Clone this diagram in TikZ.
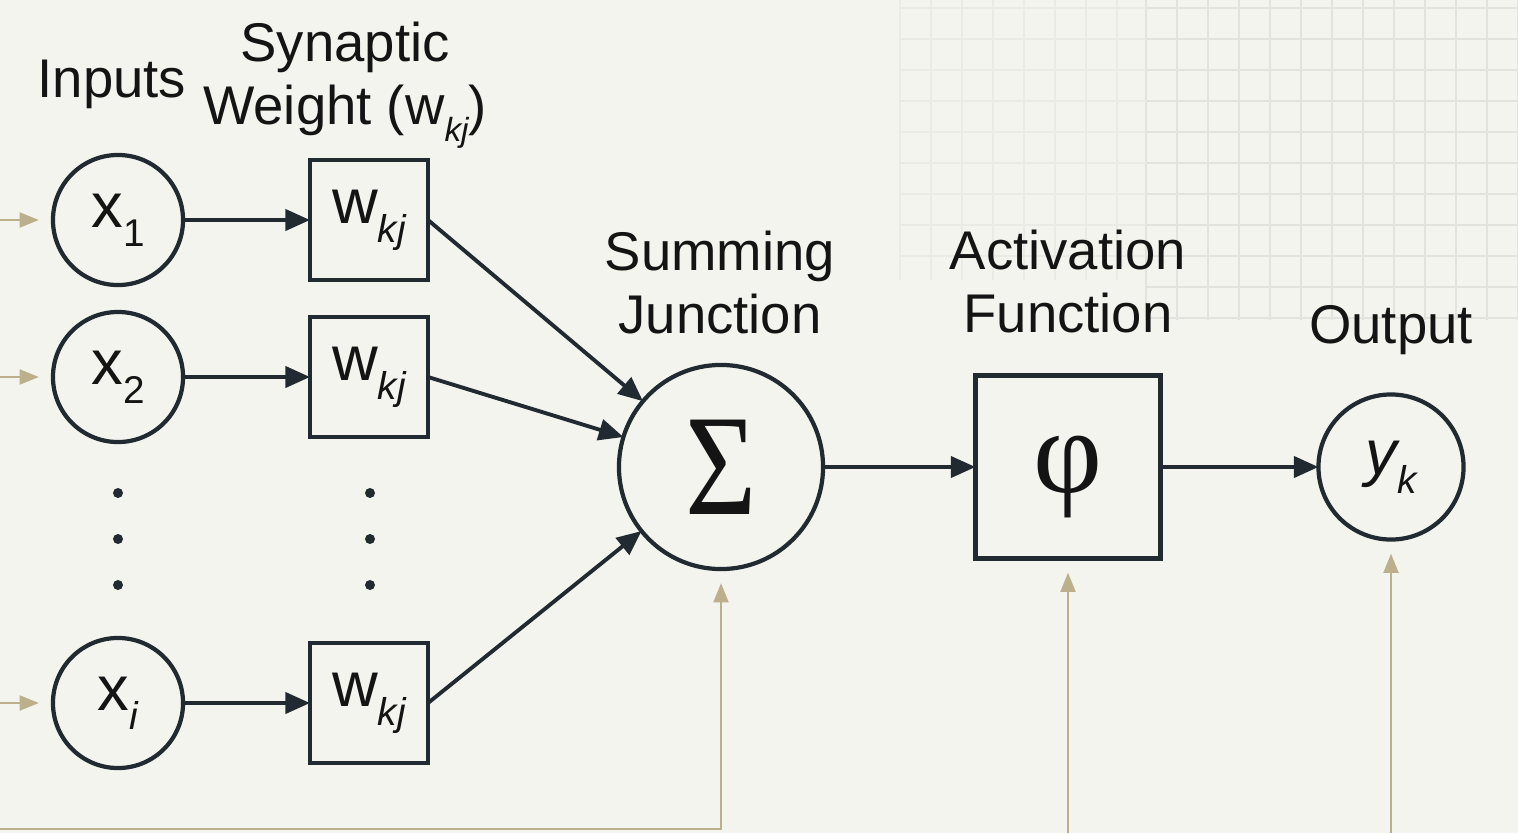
\documentclass[tikz,border=0pt]{standalone}
\usepackage{fontspec}
\setmainfont{Liberation Sans}
\newfontfamily\serifgr{Liberation Serif}
\usetikzlibrary{arrows.meta}
\definecolor{bg}{HTML}{F4F4EF}
\definecolor{ink}{HTML}{222A31}
\definecolor{tanc}{HTML}{BBAF8C}
\definecolor{gridc}{HTML}{E3E3DD}
\definecolor{gridl}{HTML}{EBEBE6}
\newcommand\sbs[1]{\raisebox{-0.3em}{\fontsize{11}{11}\selectfont #1}}
\newcommand\sbsl[1]{\raisebox{-0.3em}{\fontsize{9.5}{9.5}\selectfont #1}}
\begin{document}
\begin{tikzpicture}[x=0.01cm,y=-0.01cm,
  every node/.style={inner sep=0pt, outer sep=0pt, text=black!92},
  neuron/.style={circle, draw=ink, line width=1.2pt, font=\fontsize{18}{20}\selectfont},
  wbox/.style={rectangle, draw=ink, line width=1.3pt, minimum width=1.18cm, minimum height=1.2cm, font=\fontsize{18}{20}\selectfont},
  lbl/.style={font=\fontsize{15.5}{18}\selectfont, align=center},
  conn/.style={draw=ink, line width=1.1pt, -{Triangle[length=7pt,width=6pt]}},
  bias/.style={draw=tanc, line width=0.8pt, -{Triangle[length=5.5pt,width=4.2pt]}, shorten >=0.14cm},
  dot/.style={circle, fill=ink, minimum size=0.1cm},
  gridline/.style={draw=gridc, line width=0.4pt},
  gridfaint/.style={draw=gridl, line width=0.4pt}
]
\useasboundingbox (0,0) rectangle (1518,833);
\fill[bg] (0,0) rectangle (1518,833);
% faint background grid (upper right)
\foreach \gx in {900,931,...,1146} \draw[gridfaint] (\gx,0) -- (\gx,280);
\foreach \gx in {1146,1177,...,1518} \draw[gridline] (\gx,0) -- (\gx,320);
\foreach \gy in {8,39,...,320} \draw[gridline] (1146,\gy) -- (1518,\gy);
\foreach \gy in {8,39,...,280} \draw[gridfaint] (900,\gy) -- (1146,\gy);

% inputs
\node[neuron, minimum size=1.3cm] (x1) at (118,220) {x\sbs{1}};
\node[neuron, minimum size=1.3cm] (x2) at (118,377) {x\sbs{2}};
\node[neuron, minimum size=1.3cm] (xi) at (118,703) {x\sbs{\itshape i}};
% weights
\node[wbox] (w1) at (369,220) {w\sbs{\itshape kj}};
\node[wbox] (w2) at (369,377) {w\sbs{\itshape kj}};
\node[wbox] (w3) at (369,703) {w\sbs{\itshape kj}};
% dots
\node[dot] (dx1) at (118,493) {};
\node[dot] (dx2) at (118,539) {};
\node[dot] (dx3) at (118,585) {};
\node[dot] (dw1) at (370,493) {};
\node[dot] (dw2) at (370,539) {};
\node[dot] (dw3) at (370,585) {};
% summing, activation, output
\node[circle, draw=ink, line width=1.2pt, minimum size=2.04cm] (sigma) at (721,467)
  {\serifgr\fontsize{41}{41}\selectfont\scalebox{0.85}[1]{Σ}};
\node[rectangle, draw=ink, line width=1.3pt, minimum width=1.85cm, minimum height=1.83cm] (phi) at (1068,467)
  {\raisebox{-0.25cm}[0pt][0pt]{\serifgr\fontsize{34}{34}\selectfont φ}};
\node[neuron, minimum size=1.45cm] (yk) at (1391,467) {{\itshape y}\sbs{\itshape k}};

% labels
\node[lbl, anchor=base] (linputs) at (112,97) {Inputs};
\node[lbl, anchor=north] (lsyn) at (345,22) {Synaptic\\Weight (w\sbsl{\itshape kj})};
\node[lbl, anchor=north] (lsum) at (720,231) {Summing\\Junction};
\node[lbl, anchor=north] (lact) at (1068,230) {Activation\\Function};
\node[lbl, anchor=base] (lout) at (1391,343) {Output};

% connectors
\draw[conn] (x1) -- (w1);
\draw[conn] (x2) -- (w2);
\draw[conn] (xi) -- (w3);
\draw[conn] (w1.east) -- (sigma);
\draw[conn] (w2.east) -- (sigma);
\draw[conn] (w3.east) -- (sigma);
\draw[conn] (sigma) -- (phi);
\draw[conn] (phi) -- (yk);

% external inputs / bias (tan)
\coordinate (in1) at (0,220);
\coordinate (in2) at (0,377);
\coordinate (in3) at (0,703);
\draw[bias] (in1) -- (x1);
\draw[bias] (in2) -- (x2);
\draw[bias] (in3) -- (xi);
\coordinate (bsum) at (0,829);
\coordinate (bphi) at (1068,833);
\coordinate (byk) at (1391,833);
\draw[bias] (bsum) -| (sigma);
\draw[bias] (bphi) -- (phi);
\draw[bias] (byk) -- (yk);
\end{tikzpicture}
\end{document}
